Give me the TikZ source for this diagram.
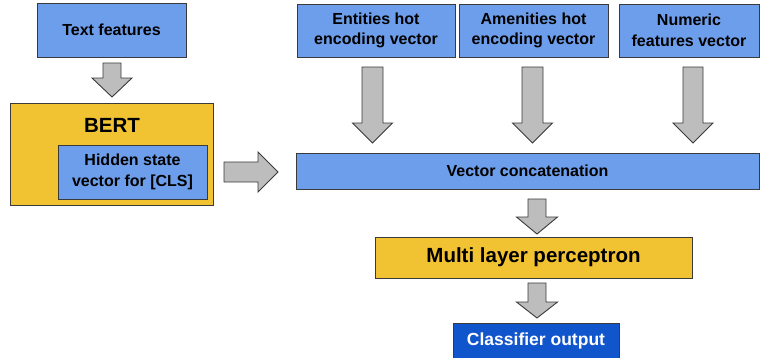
\documentclass[tikz,border=0pt]{standalone}
\usepackage{fontspec}
\setmainfont{Liberation Sans}
\definecolor{boxblue}{HTML}{6D9EEB}
\definecolor{boxyellow}{HTML}{F1C232}
\definecolor{boxdark}{HTML}{1155CC}
\definecolor{edgegray}{HTML}{3A3A3A}
\definecolor{arrowgray}{HTML}{BDBDBD}

% block arrow pointing down: centre x, top, neck, tip, shaft half width, head half width
\newcommand\downblock[6]{%
  \draw[blockarrow] (#1-#5,#2) -- (#1+#5,#2) -- (#1+#5,#3) -- (#1+#6,#3)
    -- (#1,#4) -- (#1-#6,#3) -- (#1-#5,#3) -- cycle;}
% block arrow pointing right: centre y, left, neck, tip, shaft half width, head half width
\newcommand\rightblock[6]{%
  \draw[blockarrow] (#2,#1-#5) -- (#3,#1-#5) -- (#3,#1-#6) -- (#4,#1)
    -- (#3,#1+#6) -- (#3,#1+#5) -- (#2,#1+#5) -- cycle;}

\begin{document}
\begin{tikzpicture}[x=1pt,y=-1pt,
  box/.style={draw=edgegray, line width=0.9pt, rectangle, inner sep=0pt,
    align=center, font=\bfseries\fontsize{16}{20.5}\selectfont},
  bluebox/.style={box, fill=boxblue},
  yellowbox/.style={box, fill=boxyellow},
  bigtext/.style={font=\bfseries\fontsize{20.5}{24}\selectfont},
  outbox/.style={box, fill=boxdark, text=white, font=\bfseries\fontsize{17.5}{21}\selectfont},
  blockarrow/.style={draw=edgegray, fill=arrowgray, line width=0.9pt, line join=miter}]
\useasboundingbox (0,0) rectangle (760,357);
\clip (0,0) rectangle (760,357);

% left column: text branch
\node[bluebox, minimum width=149pt, minimum height=54pt] (text) at (111.5,30) {Text features};
\node[yellowbox, minimum width=203pt, minimum height=102pt] (bert) at (111.5,154) {};
\node[bigtext] (bertlabel) at (112,125) {BERT};
\node[bluebox, minimum width=149pt, minimum height=54pt] (hidden) at (132.5,172)
  {Hidden state\\vector for [CLS]};

% top row: structured features
\node[bluebox, minimum width=158pt, minimum height=53pt] (entities) at (376,30.5)
  {Entities hot\\encoding vector};
\node[bluebox, minimum width=149pt, minimum height=53pt] (amenities) at (533.5,30.5)
  {Amenities hot\\encoding vector};
\node[bluebox, minimum width=140pt, minimum height=53pt] (numeric) at (689,30.5)
  {Numeric\\features vector};

% merge and classify
\node[bluebox, minimum width=463pt, minimum height=36pt] (concat) at (527.5,171)
  {Vector concatenation};
\node[yellowbox, bigtext, minimum width=317pt, minimum height=41pt] (mlp) at (533.5,257.5)
  {Multi layer perceptron};
\node[outbox, minimum width=166pt, minimum height=36pt] (out) at (536,341)
  {Classifier output};

% block arrows between the stages
\downblock{112}{63}{78}{97}{9}{20}
\downblock{372.5}{67}{123}{143}{10.5}{20}
\downblock{532.5}{67}{123}{143}{10.5}{20}
\downblock{693}{67}{123}{143}{10}{20}
\rightblock{172}{224}{258}{278}{10}{20}
\downblock{537}{199}{217}{234}{9}{20.5}
\downblock{537}{283}{302}{318}{9}{20.5}
\end{tikzpicture}
\end{document}
